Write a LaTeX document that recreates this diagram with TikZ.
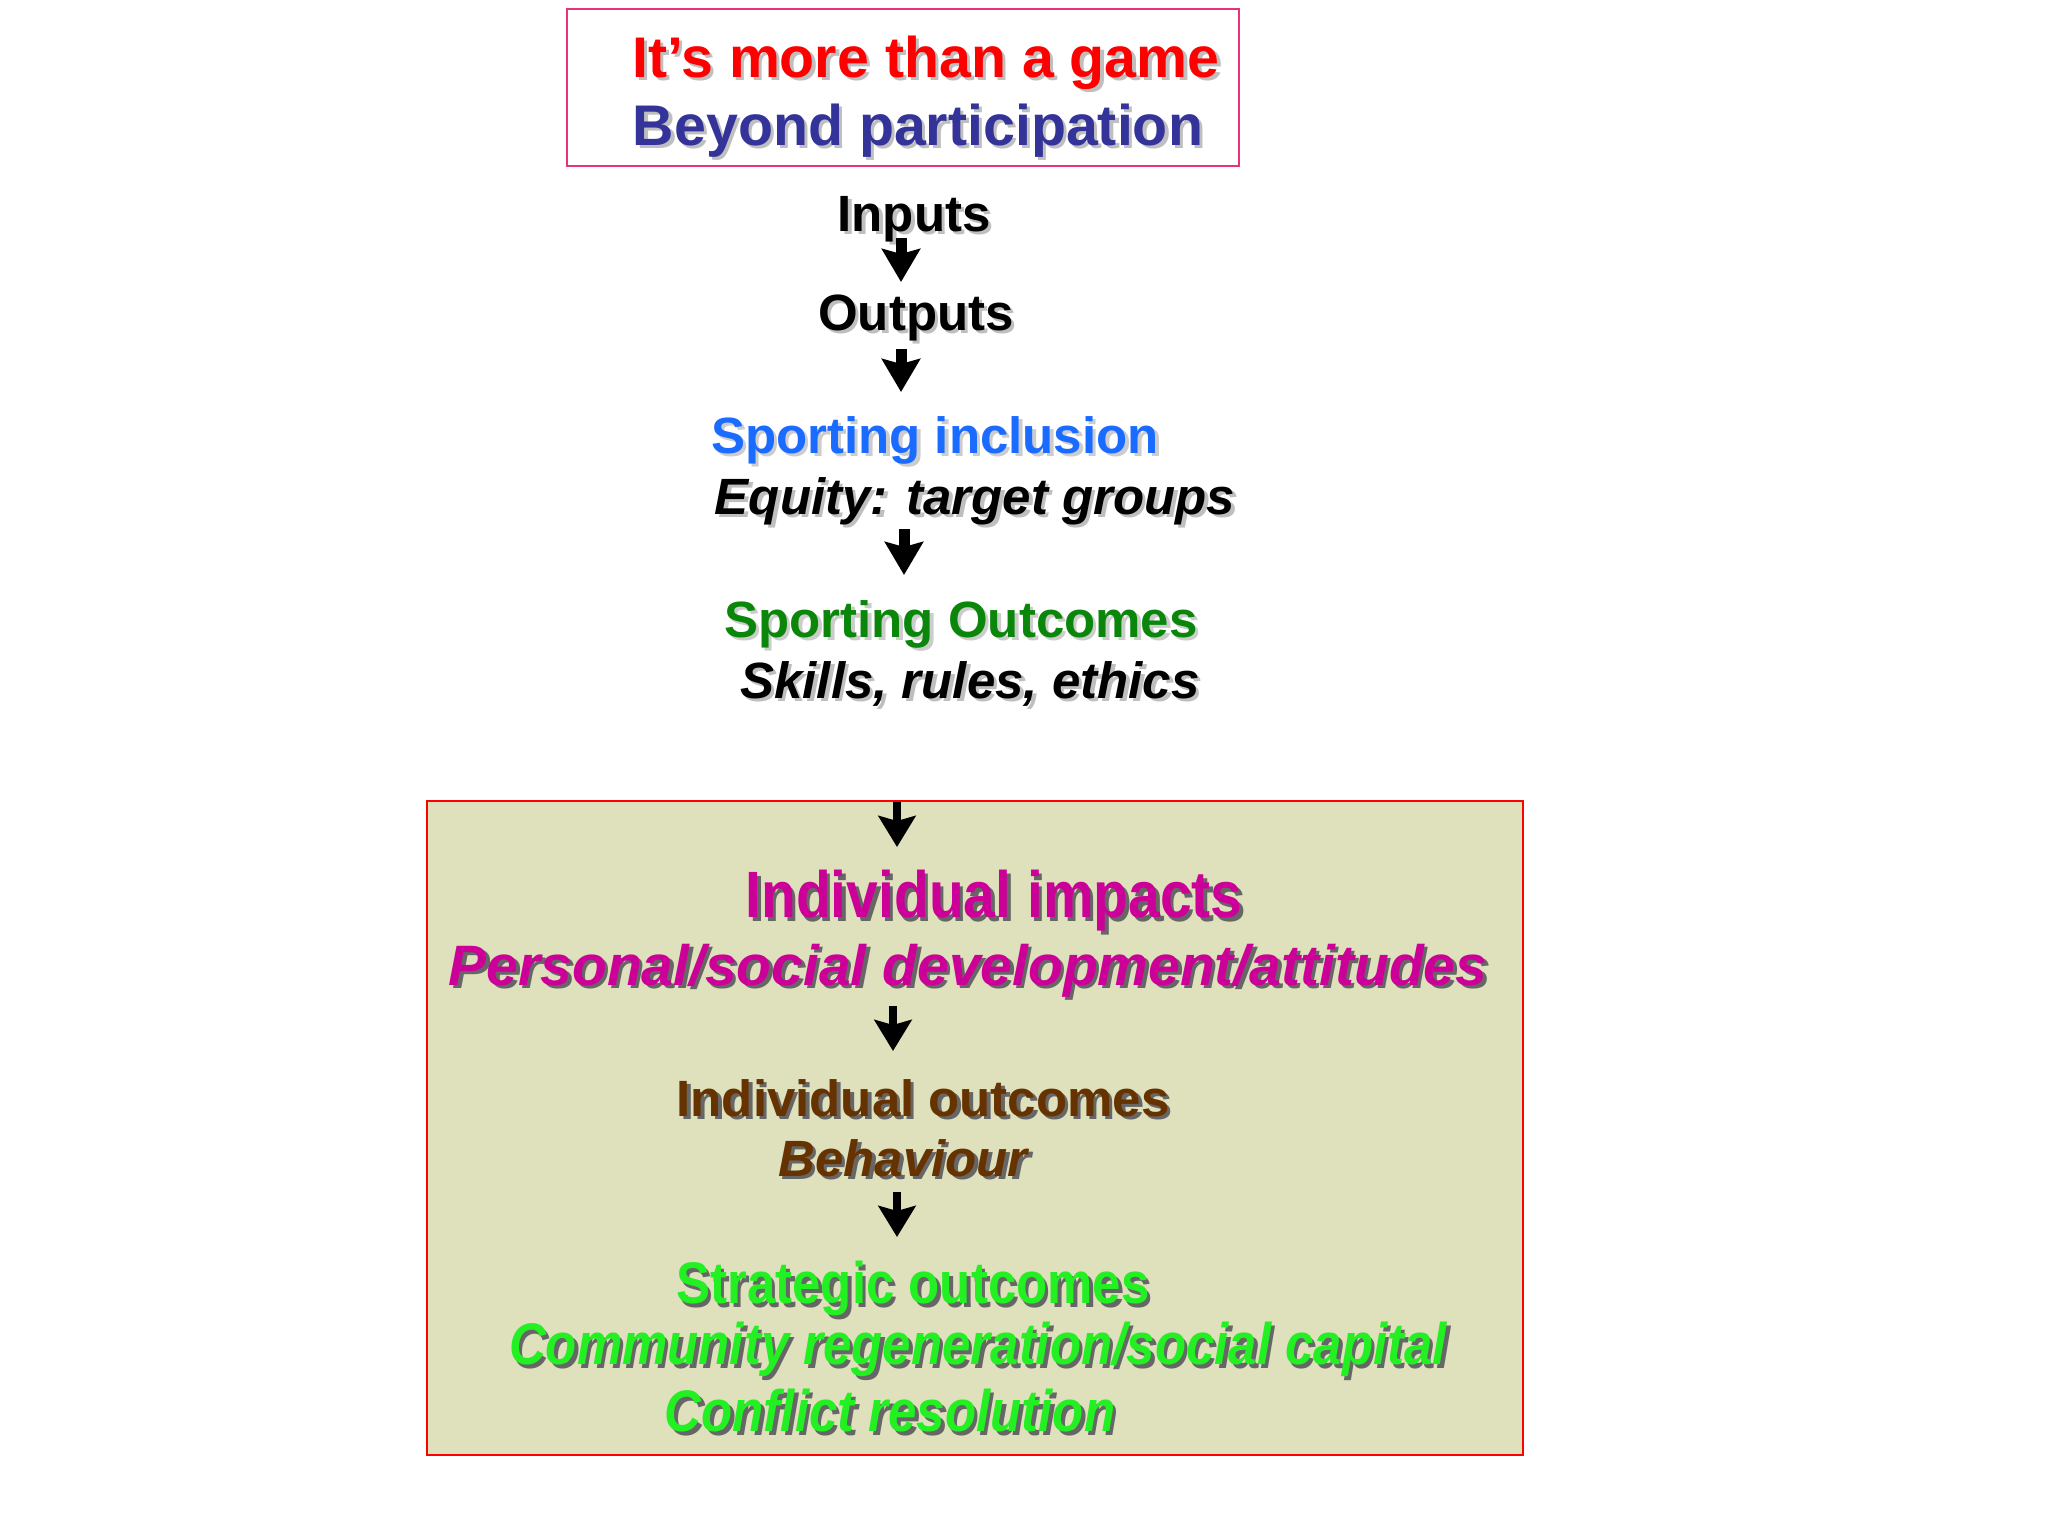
\documentclass[tikz,border=0pt]{standalone}
\usepackage{fontspec}
\usepackage{graphicx}
\setmainfont{Liberation Sans}
\usetikzlibrary{arrows.meta}
\definecolor{framepink}{HTML}{E8337A}
\definecolor{beyondblue}{HTML}{333399}
\definecolor{inclblue}{HTML}{1A6BFF}
\definecolor{sportgreen}{HTML}{0A870A}
\definecolor{impactmag}{HTML}{CC0099}
\definecolor{outbrown}{HTML}{663300}
\definecolor{stratgreen}{HTML}{22F022}
\definecolor{boxkhaki}{HTML}{DFE0BC}
\newcommand{\shd}[2]{\makebox[0pt][l]{\kern1pt\raisebox{-1pt}{\color{#1}#2}}#2}
\newcommand{\tall}[1]{\scalebox{1}[1.15]{#1}}
\tikzset{
	txt/.style={font=\bfseries\fontsize{14.5}{17}\selectfont,inner sep=0pt,anchor=base},
	itxt/.style={txt,font=\bfseries\itshape\fontsize{14.5}{17}\selectfont},
	headtxt/.style={txt,font=\bfseries\fontsize{16.3}{19}\selectfont},
	bigtxt/.style={txt,font=\bfseries\fontsize{16.2}{19}\selectfont},
	ibigtxt/.style={txt,font=\bfseries\itshape\fontsize{16.2}{19}\selectfont},
	bigarrow/.style={line width=0.11cm,-{Stealth[length=0.33cm,width=0.38cm,inset=0.05cm]}},
	boxarrow/.style={line width=0.08cm,-{Stealth[length=0.31cm,width=0.37cm,inset=0.05cm]}}
}
\begin{document}
\begin{tikzpicture}[x=0.01cm,y=-0.01cm]
	\useasboundingbox (0,0) rectangle (2048,1536);
	\draw[framepink,line width=0.7pt](567,9) rectangle (1239,166);
	\filldraw[draw=red,fill=boxkhaki,line width=0.7pt](427,801) rectangle (1523,1455);

	\node[headtxt,text=red] (game) at (926,77) {\shd{black!25}{It’s more than a game}};
	\node[headtxt,text=beyondblue] (beyond) at (918,145) {\shd{black!25}{Beyond participation}};

	\node[txt] (inputs) at (914,231) {\shd{black!25}{Inputs}};
	\node[txt] (outputs) at (916,330) {\shd{black!25}{Outputs}};
	\node[txt,text=inclblue] (incl) at (935,453) {\shd{black!20}{Sporting inclusion}};
	\node[itxt] (equity) at (975,514) {\shd{black!25}{Equity: target groups}};
	\node[txt,text=sportgreen] (sportout) at (961,637) {\shd{black!20}{Sporting Outcomes}};
	\node[itxt] (skills) at (970,698) {\shd{black!25}{Skills, rules, ethics}};

	\node[bigtxt,text=impactmag] (impacts) at (994,917) {\tall{\shd{black!60}{Individual impacts}}};
	\node[ibigtxt,text=impactmag] (personal) at (968,985) {\shd{black!60}{Personal/social development/attitudes}};
	\node[txt,text=outbrown] (indout) at (923,1116) {\shd{black!60}{Individual outcomes}};
	\node[itxt,text=outbrown] (behav) at (903,1176) {\shd{black!60}{Behaviour}};
	\node[txt,text=stratgreen] (strat) at (913,1303) {\tall{\shd{black!60}{Strategic outcomes}}};
	\node[itxt,text=stratgreen] (community) at (978,1364) {\tall{\shd{black!60}{Community regeneration/social capital}}};
	\node[itxt,text=stratgreen] (conflict) at (890,1431) {\tall{\shd{black!60}{Conflict resolution}}};

	\coordinate (a1t) at (901,238); \coordinate (a1b) at (901,282);
	\coordinate (a2t) at (901,349); \coordinate (a2b) at (901,392);
	\coordinate (a3t) at (904,529); \coordinate (a3b) at (904,575);
	\coordinate (a4t) at (897,802); \coordinate (a4b) at (897,847);
	\coordinate (a5t) at (893,1006); \coordinate (a5b) at (893,1051);
	\coordinate (a6t) at (897,1192); \coordinate (a6b) at (897,1237);
	\draw[bigarrow](a1t)--(a1b);
	\draw[bigarrow](a2t)--(a2b);
	\draw[bigarrow](a3t)--(a3b);
	\draw[boxarrow](a4t)--(a4b);
	\draw[boxarrow](a5t)--(a5b);
	\draw[boxarrow](a6t)--(a6b);
\end{tikzpicture}
\end{document}
